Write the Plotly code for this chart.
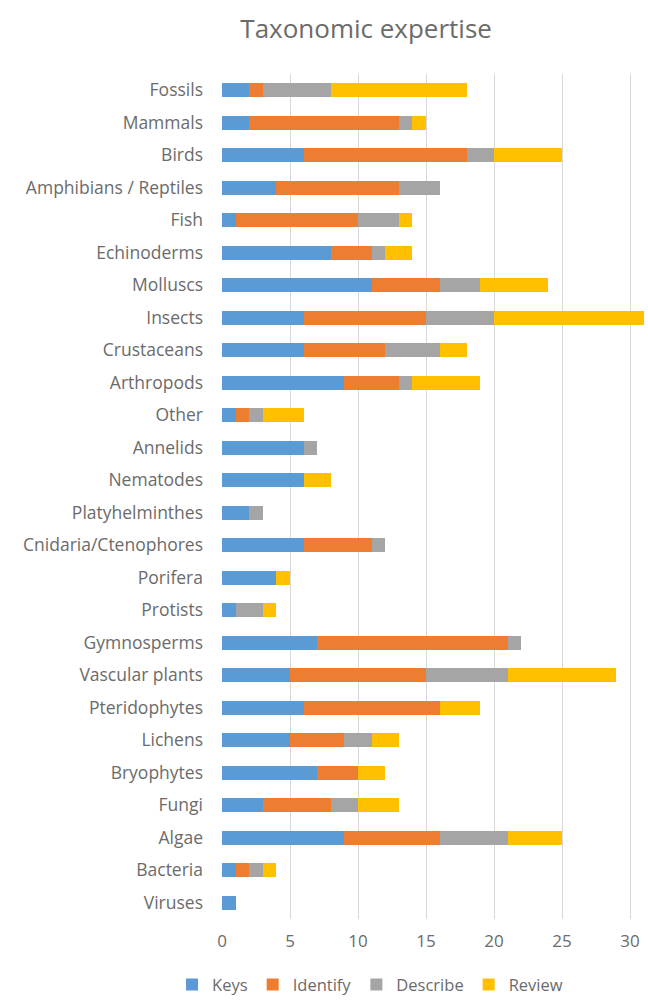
import plotly.graph_objects as go

categories = ["Fossils", "Mammals", "Birds", "Amphibians / Reptiles", "Fish", "Echinoderms",
              "Molluscs", "Insects", "Crustaceans", "Arthropods", "Other", "Annelids",
              "Nematodes", "Platyhelminthes", "Cnidaria/Ctenophores", "Porifera", "Protists",
              "Gymnosperms", "Vascular plants", "Pteridophytes", "Lichens", "Bryophytes",
              "Fungi", "Algae", "Bacteria", "Viruses"]
keys     = [2, 2, 6, 4, 1, 8, 11, 6, 6, 9, 1, 6, 6, 2, 6, 4, 1, 7, 5, 6, 5, 7, 3, 9, 1, 1]
identify = [1, 11, 12, 9, 9, 3, 5, 9, 6, 4, 1, 0, 0, 0, 5, 0, 0, 14, 10, 10, 4, 3, 5, 7, 1, 0]
describe = [5, 1, 2, 3, 3, 1, 3, 5, 4, 1, 1, 1, 0, 1, 1, 0, 2, 1, 6, 0, 2, 0, 2, 5, 1, 0]
review   = [10, 1, 5, 0, 1, 2, 5, 11, 2, 5, 3, 0, 2, 0, 0, 1, 1, 0, 8, 3, 2, 2, 3, 4, 1, 0]
x_ticks = [0, 5, 10, 15, 20, 25, 30]

series = [("Keys", keys, "#5B9BD5"), ("Identify", identify, "#ED7D31"),
          ("Describe", describe, "#A5A5A5"), ("Review", review, "#FFC000")]

fig = go.Figure()
for name, vals, color in series:
    fig.add_trace(go.Bar(y=categories, x=vals, name=name, orientation="h",
                         marker=dict(color=color, line=dict(width=0))))

fig.update_layout(
    width=648, height=1003,
    barmode="stack", bargap=0.58,
    paper_bgcolor="white", plot_bgcolor="white",
    font=dict(family="Open Sans, sans-serif", size=16, color="#6B6B6B"),
    title=dict(text="Taxonomic expertise", x=0.565, xanchor="center", y=0.971, yanchor="middle",
               font=dict(size=26, color="#6B6B6B")),
    margin=dict(l=222, r=3, t=74, b=84, autoexpand=False),
    xaxis=dict(range=[0, 31.1], tickvals=x_ticks, showgrid=True, gridcolor="#D9D9D9",
               gridwidth=1, zeroline=False, showline=False, ticks="", tickfont=dict(size=17),
               ticklabelstandoff=10, automargin=False),
    yaxis=dict(categoryorder="array", categoryarray=categories, autorange="reversed",
               showgrid=False, showline=False, ticks="", ticklabelstandoff=18,
               tickfont=dict(size=17.5), automargin=False),
    legend=dict(orientation="h", x=0.35, xanchor="center", y=-0.0985, yanchor="bottom",
                font=dict(size=16.5), traceorder="normal", itemwidth=30,
                bgcolor="rgba(0,0,0,0)"),
)

fig.write_html("out.html")
